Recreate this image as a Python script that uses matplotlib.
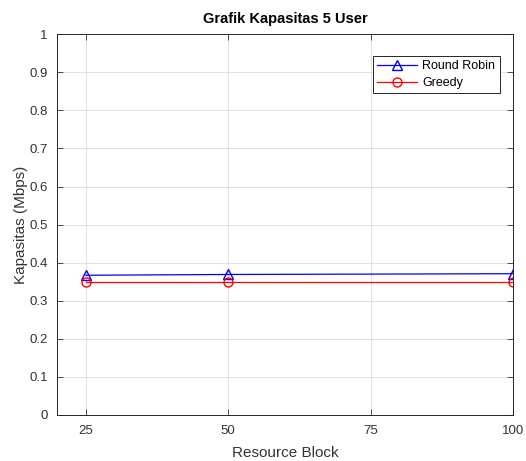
import matplotlib
matplotlib.use("Agg")
from matplotlib import pyplot as plt

resource_block = [25, 50, 100]
round_robin = [0.367, 0.369, 0.371]
greedy = [0.348, 0.348, 0.348]

x_ticks = [25, 50, 75, 100]
y_ticks = [0, 0.1, 0.2, 0.3, 0.4, 0.5, 0.6, 0.7, 0.8, 0.9, 1]

plt.rcParams['font.family'] = ['Liberation Sans', 'DejaVu Sans']

fig = plt.figure(figsize=(5.26, 4.61), dpi=100)
ax = fig.add_axes([0.109, 0.0998, 0.866, 0.826])

ax.plot(resource_block, round_robin, color='blue', marker='^', markersize=6.5,
		markerfacecolor='none', linewidth=0.9, label='Round Robin')
ax.plot(resource_block, greedy, color='red', marker='o', markersize=6.5,
		markerfacecolor='none', linewidth=0.9, label='Greedy')

ax.set_xlim(20, 100)
ax.set_ylim(0, 1)
ax.set_xticks(x_ticks)
ax.set_yticks(y_ticks)
ax.set_yticklabels([f"{v:g}" for v in y_ticks])
ax.tick_params(direction='in', top=True, right=True, labelsize=9.5,
			   colors='#333333', length=4, width=0.6, pad=7)
ax.grid(True, color='#dcdcdc', linewidth=0.6)
for s in ax.spines.values():
	s.set_color('#262626')
	s.set_linewidth(0.7)

ax.set_xlabel('Resource Block', fontsize=11, color='#333333', labelpad=7)
ax.set_ylabel('Kapasitas (Mbps)', fontsize=11, color='#333333', labelpad=1)
ax.set_title('Grafik Kapasitas 5 User', fontsize=10.5, fontweight='bold', pad=8)

leg = ax.legend(loc='upper right', bbox_to_anchor=(0.985, 0.96), fontsize=9,
				fancybox=False, framealpha=1, edgecolor='#262626',
				borderpad=0.35, handlelength=3.2, labelspacing=0.4,
				handletextpad=0.4)
leg.get_frame().set_linewidth(0.7)

fig.savefig("out.png", dpi=100)
